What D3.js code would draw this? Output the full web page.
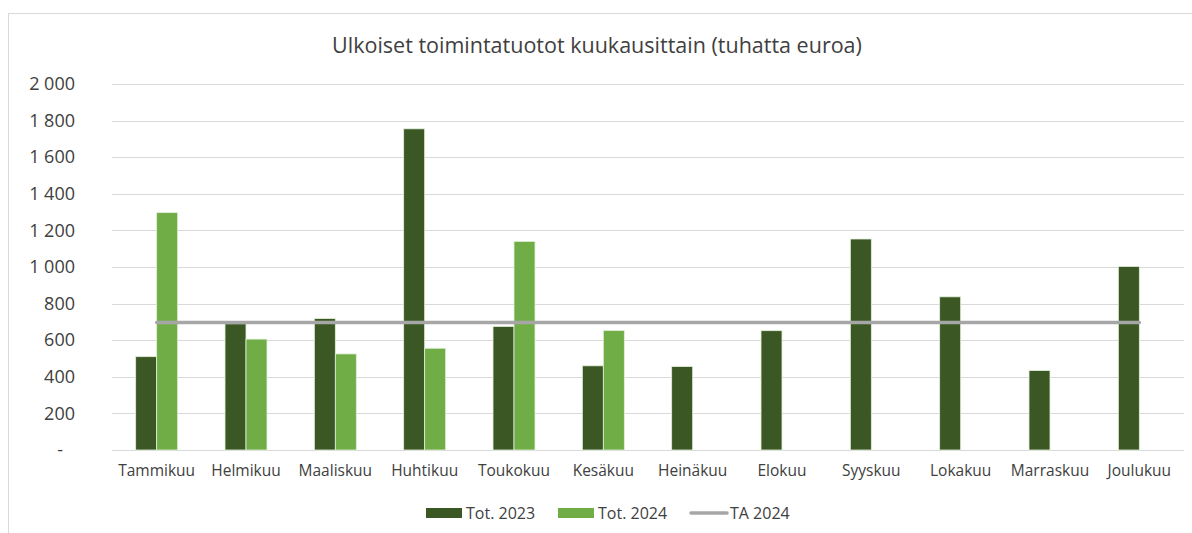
<!DOCTYPE html>
<html lang="fi">
<head>
<meta charset="UTF-8">
<title>Ulkoiset toimintatuotot</title>
<script src="https://d3js.org/d3.v7.min.js"></script>
<style>
  body { margin: 0; background: #fff; }
  svg text { font-family: "Open Sans", "Noto Sans", sans-serif; fill: #404040; }
</style>
</head>
<body>
<svg id="chart" width="1192" height="533"></svg>
<script>
// data
var months = ["Tammikuu", "Helmikuu", "Maaliskuu", "Huhtikuu", "Toukokuu", "Kesäkuu",
  "Heinäkuu", "Elokuu", "Syyskuu", "Lokakuu", "Marraskuu", "Joulukuu"];
var tot2023 = [510, 690, 718, 1755, 675, 460, 456, 652, 1153, 837, 434, 1003];
var tot2024 = [1297, 606, 525, 556, 1140, 653, null, null, null, null, null, null];
var ta2024 = 697;
var yTicks = [0, 200, 400, 600, 800, 1000, 1200, 1400, 1600, 1800, 2000];

var svg = d3.select("#chart");
var margin = { left: 112, right: 8, top: 84, bottom: 83 };
var width = 1192 - margin.left - margin.right;
var height = 533 - margin.top - margin.bottom;

// chart frame
svg.append("rect")
  .attr("x", 8.5).attr("y", 13.5)
  .attr("width", 1200).attr("height", 600)
  .attr("fill", "none").attr("stroke", "#d9d9d9");

var x = d3.scaleBand().domain(months).range([0, width]).paddingInner(0.53).paddingOuter(0.265);
var xs = d3.scaleBand().domain(["2023", "2024"]).range([0, x.bandwidth()]);
var y = d3.scaleLinear().domain([0, 2000]).range([height, 0]);

var g = svg.append("g").attr("transform", "translate(" + margin.left + "," + margin.top + ")");

// title
svg.append("text")
  .attr("x", 597).attr("y", 53)
  .attr("text-anchor", "middle")
  .style("font-size", "21.5px")
  .text("Ulkoiset toimintatuotot kuukausittain (tuhatta euroa)");

// gridlines
g.selectAll(".grid")
  .data(yTicks)
  .enter().append("line")
  .attr("x1", 0).attr("x2", width)
  .attr("y1", function(d) { return Math.round(y(d)) + 0.5; })
  .attr("y2", function(d) { return Math.round(y(d)) + 0.5; })
  .attr("stroke", "#d9d9d9").attr("stroke-width", 1);

// y axis labels
var fmt = function(d) {
  if (d === 0) return "-";
  return d3.format(",")(d).replace(",", "\u00a0");
};
var yAxis = d3.axisLeft(y).tickValues(yTicks).tickSize(0).tickPadding(0).tickFormat(fmt);
var yg = g.append("g").attr("transform", "translate(-37,0)").call(yAxis);
yg.select(".domain").remove();
yg.selectAll("text").style("font-size", "18px").attr("fill", "#404040")
  .attr("dx", function(d) { return d === 0 ? "-12px" : null; });

// x axis labels
var xAxis = d3.axisBottom(x).tickSize(0).tickPadding(0);
var xg = g.append("g").attr("transform", "translate(0," + (height + 15) + ")").call(xAxis);
xg.select(".domain").remove();
xg.selectAll("text").style("font-size", "15.5px").attr("fill", "#404040");

// bars
var bars = [];
months.forEach(function(m, i) {
  bars.push({ month: m, series: "2023", value: tot2023[i] });
  if (tot2024[i] != null) bars.push({ month: m, series: "2024", value: tot2024[i] });
});
var colors = { "2023": "#3b5824", "2024": "#70ad47" };

g.selectAll(".bar")
  .data(bars)
  .enter().append("rect")
  .attr("class", "bar")
  .attr("x", function(d) { return x(d.month) + xs(d.series); })
  .attr("width", xs.bandwidth())
  .attr("y", function(d) { return y(d.value); })
  .attr("height", function(d) { return y(0) - y(d.value); })
  .attr("fill", function(d) { return colors[d.series]; })
  .attr("stroke", "#e2efda")
  .attr("stroke-width", 0.8);

// TA 2024 line
g.append("line")
  .attr("x1", x(months[0]) + x.bandwidth() / 2)
  .attr("x2", x(months[months.length - 1]) + x.bandwidth() / 2)
  .attr("y1", y(ta2024)).attr("y2", y(ta2024))
  .attr("stroke", "#a6a6a6").attr("stroke-width", 3.5)
  .attr("stroke-linecap", "round");

// legend
var legend = svg.append("g").attr("transform", "translate(0,513)");
legend.append("rect").attr("x", 426).attr("y", -5).attr("width", 36).attr("height", 10).attr("fill", colors["2023"]);
legend.append("text").attr("x", 466).attr("y", 5.5).style("font-size", "16px").text("Tot. 2023");
legend.append("rect").attr("x", 558).attr("y", -5).attr("width", 36).attr("height", 10).attr("fill", colors["2024"]);
legend.append("text").attr("x", 598).attr("y", 5.5).style("font-size", "16px").text("Tot. 2024");
legend.append("line").attr("x1", 691).attr("x2", 727).attr("y1", 0).attr("y2", 0)
  .attr("stroke", "#a6a6a6").attr("stroke-width", 3.5).attr("stroke-linecap", "round");
legend.append("text").attr("x", 730).attr("y", 5.5).style("font-size", "16px").text("TA 2024");
</script>
</body>
</html>
